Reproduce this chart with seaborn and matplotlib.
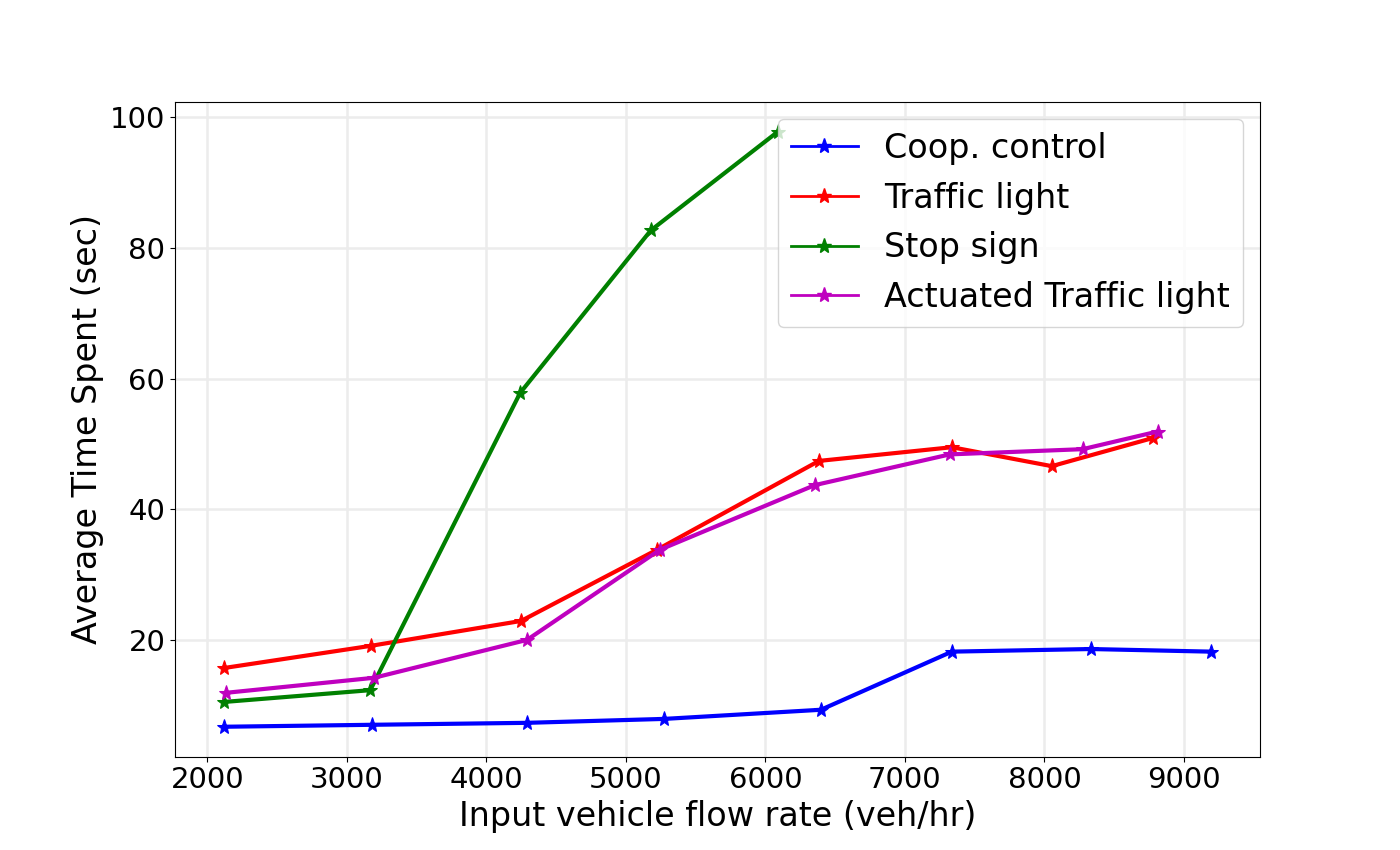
import numpy as np
import pandas as pd
import seaborn as sns
import matplotlib
matplotlib.use("Agg")
import matplotlib.pyplot as plt
from matplotlib.lines import Line2D

# values
coop_x = [2122, 3182, 4292, 5274, 6398, 7337, 8332, 9192]
coop_y = [6.7, 7.0, 7.3, 7.9, 9.3, 18.2, 18.6, 18.2]

light_x = [2122, 3175, 4249, 5223, 6384, 7337, 8053, 8776]
light_y = [15.7, 19.1, 22.9, 33.8, 47.4, 49.5, 46.6, 50.9]

stop_x = [2122, 3168, 4242, 5179, 6089]
stop_y = [10.5, 12.3, 57.8, 82.7, 97.8]

act_x = [2136, 3196, 4292, 5244, 6355, 7322, 8274, 8811]
act_y = [11.9, 14.2, 20.0, 33.8, 43.7, 48.4, 49.2, 51.9]

names = ["Coop. control", "Traffic light", "Stop sign", "Actuated Traffic light"]
colors = ["#0000ff", "#ff0000", "#008000", "#bf00bf"]

series = [(coop_x, coop_y), (light_x, light_y), (stop_x, stop_y), (act_x, act_y)]

fig, ax = plt.subplots(figsize=(14, 8.5), dpi=100)
for (xs, ys), name, c in zip(series, names, colors):
    df = pd.DataFrame({"x": xs, "y": ys})
    sns.lineplot(data=df, x="x", y="y", ax=ax, color=c, marker="*",
                 markersize=11, markeredgecolor=c, linewidth=3, sort=False)

ax.grid(True, color="#ececec", linewidth=1.8)
ax.set_axisbelow(True)
ax.set_xlabel("Input vehicle flow rate (veh/hr)", fontsize=24)
ax.set_ylabel("Average Time Spent (sec)", fontsize=24)
ax.tick_params(labelsize=21)

handles = [Line2D([0], [0], color=c, marker="*", markersize=11, linewidth=2)
           for c in colors]
ax.legend(handles, names, fontsize=24, loc="upper right")

fig.savefig("out.png", dpi=100)
